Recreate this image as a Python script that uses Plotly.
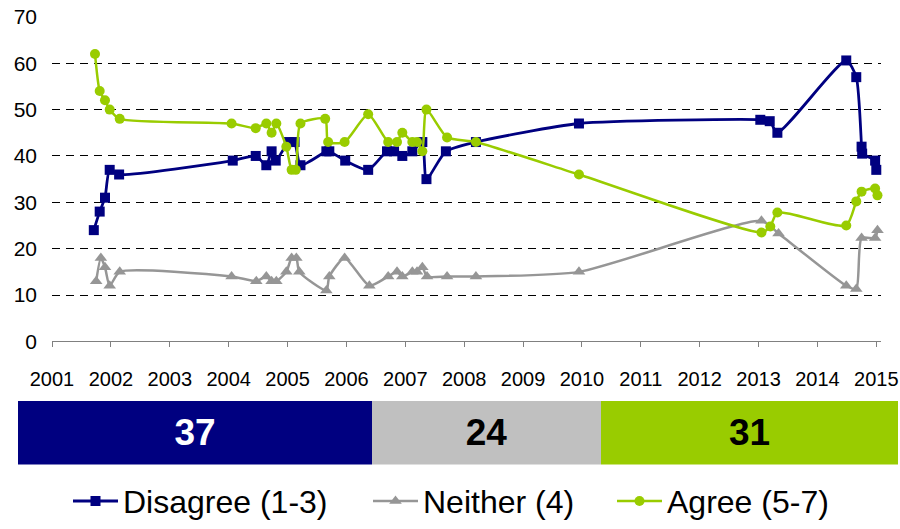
import plotly.graph_objects as go

# ---------------- data ----------------
disagree_x = [2001.71, 2001.81, 2001.90, 2001.98, 2002.14, 2004.07, 2004.46, 2004.64, 2004.73, 2004.80,
              2005.02, 2005.12, 2005.22, 2005.66, 2005.71, 2005.98, 2006.37, 2006.69, 2006.81, 2006.95,
              2007.12, 2007.29, 2007.36, 2007.69, 2008.20, 2009.95, 2013.03, 2013.19, 2013.32, 2014.49,
              2014.66, 2014.75, 2014.76, 2014.98, 2015.00]
disagree_y = [24, 28, 31, 37, 36, 39, 40, 38, 41, 39,
              43, 43, 38, 41, 41, 39, 37, 41, 41, 40,
              41, 43, 35, 41, 43, 47, 47.8, 47.5, 45, 60.6,
              57, 42, 40.5, 39, 37]

neither_x = [2001.75, 2001.83, 2001.90, 2001.98, 2002.15, 2004.05, 2004.47, 2004.64, 2004.73, 2004.81,
             2004.98, 2005.07, 2005.15, 2005.20, 2005.66, 2005.71, 2005.97, 2006.39, 2006.71, 2006.86,
             2006.95, 2007.12, 2007.20, 2007.29, 2007.37, 2007.71, 2008.20, 2009.95, 2013.05, 2013.34,
             2014.49, 2014.66, 2014.75, 2014.98, 2015.02]
neither_y = [13, 18, 16, 12, 15, 14, 13, 14, 13, 13,
             15, 18, 18, 15, 11, 14, 18, 12, 14, 15,
             14, 15, 15, 16, 14, 14, 14, 15, 26, 23.3,
             12, 11.3, 22.3, 22.3, 24]

agree_x = [2001.73, 2001.81, 2001.90, 2001.98, 2002.15, 2004.05, 2004.46, 2004.64, 2004.73, 2004.81,
           2004.98, 2005.07, 2005.14, 2005.22, 2005.64, 2005.69, 2005.97, 2006.37, 2006.71, 2006.86,
           2006.95, 2007.12, 2007.20, 2007.29, 2007.36, 2007.71, 2008.20, 2009.95, 2013.05, 2013.20,
           2013.32, 2014.49, 2014.66, 2014.75, 2014.98, 2015.02]
agree_y = [62, 54, 52, 50, 48, 47, 46, 47, 45, 47,
           42, 37, 37, 47, 48, 43, 43, 49, 43, 43,
           45, 43, 43, 41, 50, 44, 43, 36, 23.5, 24.8,
           27.8, 25, 30.2, 32.3, 33, 31.5]

year_ticks = list(range(2001, 2016))
y_ticks = [0, 10, 20, 30, 40, 50, 60, 70]

latest_labels = ["Disagree (1-3)", "Neither (4)", "Agree (5-7)"]
latest_values = [37, 24, 31]

# ---------------- styling ----------------
NAVY = "#000080"
GRAY = "#969696"
GREEN = "#99CC00"
BAR_COLORS = [NAVY, "#C0C0C0", GREEN]
BAR_TEXT = ["white", "black", "black"]
FONT = "Liberation Sans, Arial, sans-serif"

W, H = 900, 529

def px_x(p):
    return p / W

def px_y(p):
    return 1 - p / H

fig = go.Figure()

legend_ids = ["legend", "legend2", "legend3"]
series = [
    (latest_labels[0], disagree_x, disagree_y, NAVY, "square", 10, 2.8),
    (latest_labels[1], neither_x, neither_y, GRAY, "triangle-up", 11, 2.5),
    (latest_labels[2], agree_x, agree_y, GREEN, "circle", 10, 2.5),
]
for (name, xs, ys, col, sym, sz, lw), lid in zip(series, legend_ids):
    fig.add_trace(go.Scatter(
        x=xs, y=ys, name=name, mode="lines+markers",
        line=dict(color=col, width=lw, shape="spline", smoothing=0.6),
        marker=dict(symbol=sym, size=sz, color=col),
        xaxis="x", yaxis="y", cliponaxis=False, legend=lid,
    ))

# stacked horizontal bar of latest values
for lab, val, col, tcol in zip(latest_labels, latest_values, BAR_COLORS, BAR_TEXT):
    fig.add_trace(go.Bar(
        x=[val], y=[0], orientation="h", marker=dict(color=col, line=dict(width=0)),
        text=[str(val)], textposition="inside", insidetextanchor="middle",
        textfont=dict(family=FONT, size=37, color=tcol, weight="bold"),
        showlegend=False, xaxis="x2", yaxis="y2", width=1, hoverinfo="skip",
    ))

def leg(xpx):
    return dict(orientation="h", x=px_x(xpx), xanchor="left", y=px_y(505), yanchor="middle",
                font=dict(size=32, family=FONT), itemwidth=45,
                bgcolor="rgba(0,0,0,0)", borderwidth=0)

fig.update_layout(
    width=W, height=H,
    margin=dict(l=0, r=0, t=0, b=0),
    paper_bgcolor="white", plot_bgcolor="white",
    barmode="stack", bargap=0,
    font=dict(family=FONT, color="black"),
    xaxis=dict(
        domain=[px_x(52), px_x(881)], range=[2001, 2015.08],
        tickvals=year_ticks, ticktext=[str(y) for y in year_ticks],
        showgrid=False, zeroline=False, automargin=False,
        showline=True, linecolor="#808080", linewidth=1,
        ticks="outside", ticklen=5, tickcolor="#808080",
        tickfont=dict(size=20, family=FONT), ticklabelstandoff=15,
        ticklabeloverflow="allow",
        anchor="y",
    ),
    yaxis=dict(
        domain=[px_y(344), px_y(17)], range=[0, 70], automargin=False,
        tickvals=y_ticks, showgrid=True, gridcolor="black", gridwidth=1,
        griddash="8px,6px", zeroline=False, showline=False, ticks="",
        tickfont=dict(size=21, family=FONT), ticklabelstandoff=14,
        ticklabeloverflow="allow",
        anchor="x",
    ),
    xaxis2=dict(domain=[px_x(18), px_x(898)], range=[0, sum(latest_values)],
                visible=False, anchor="y2", automargin=False),
    yaxis2=dict(domain=[px_y(468), px_y(404)], range=[-0.5, 0.5],
                visible=False, anchor="x2", automargin=False),
    legend=leg(68),
    legend2=leg(368),
    legend3=leg(612),
    showlegend=True,
)

fig.write_html("out.html", config={"displayModeBar": False},
               post_script="document.body.style.margin='0';")
